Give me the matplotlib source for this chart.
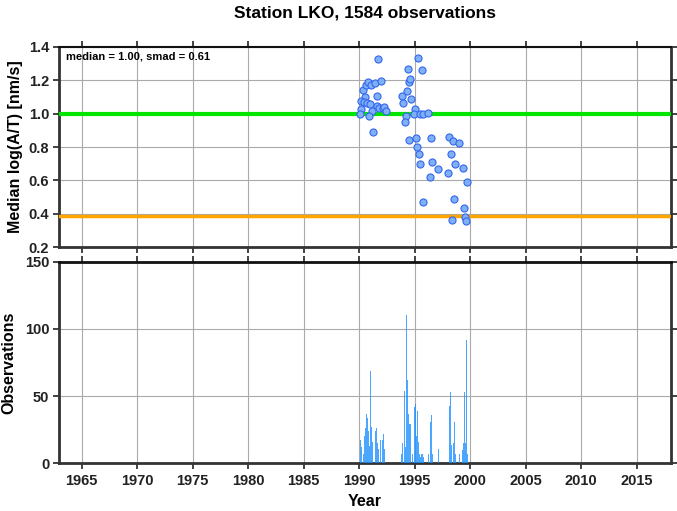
import numpy as np
import matplotlib
matplotlib.use("Agg")
import matplotlib.pyplot as plt

plt.rcParams['font.family'] = ['Liberation Sans', 'DejaVu Sans']
plt.rcParams['font.weight'] = 'bold'

station = "LKO"
n_obs = 1584
median_val = 1.00
smad_val = 0.61

# medians per period (decimal year, log(A/T))
pt_year = [1991.72, 1995.30, 1994.37, 1995.63, 1990.36, 1990.63, 1990.81, 1991.05,
           1991.45, 1991.93, 1990.54, 1991.63, 1990.18, 1990.42, 1990.72, 1990.96,
           1991.57, 1991.81, 1992.17, 1992.26, 1992.38, 1990.21, 1991.14, 1990.09,
           1990.90, 1991.23, 1993.83, 1993.95, 1994.28, 1994.46, 1994.61, 1994.70,
           1995.06, 1994.19, 1994.10, 1994.94, 1995.51, 1995.78, 1996.23, 1994.52,
           1995.15, 1996.45, 1995.21, 1995.39, 1995.45, 1996.57, 1996.39, 1997.14,
           1995.72, 1998.13, 1998.49, 1999.01, 1998.25, 1998.67, 1999.34, 1998.04,
           1999.70, 1998.58, 1999.43, 1999.52, 1999.61, 1998.34]
pt_val = [1.326, 1.334, 1.269, 1.261, 1.143, 1.173, 1.191, 1.173,
          1.185, 1.197, 1.101, 1.103, 1.078, 1.070, 1.064, 1.056,
          1.048, 1.034, 1.036, 1.038, 1.018, 1.030, 1.016, 0.998,
          0.988, 0.887, 1.105, 1.064, 1.137, 1.191, 1.207, 1.086,
          1.028, 0.988, 0.950, 0.998, 0.998, 0.998, 1.006, 0.841,
          0.853, 0.855, 0.801, 0.757, 0.696, 0.709, 0.618, 0.666,
          0.469, 0.859, 0.833, 0.827, 0.761, 0.696, 0.672, 0.642,
          0.588, 0.491, 0.435, 0.379, 0.359, 0.363]

# monthly observation counts
bar_year = [1990.08, 1990.24, 1990.38, 1990.47, 1990.57, 1990.68, 1990.77, 1990.86,
            1990.96, 1991.05, 1991.13, 1991.22, 1991.49, 1991.58, 1991.67, 1991.76,
            1991.90, 1992.12, 1992.21, 1992.30, 1993.84, 1993.93, 1994.11, 1994.20,
            1994.29, 1994.38, 1994.47, 1994.56, 1994.67, 1994.77, 1994.97, 1995.08,
            1995.17, 1995.26, 1995.35, 1995.44, 1995.53, 1995.62, 1995.71, 1995.80,
            1996.22, 1996.40, 1996.49, 1996.58, 1997.14, 1998.12, 1998.21, 1998.30,
            1998.48, 1998.57, 1998.66, 1999.02, 1999.32, 1999.41, 1999.50, 1999.59,
            1999.68, 1999.77]
bar_n = [17, 12, 7, 20, 26, 37, 34, 24,
         13, 69, 27, 16, 24, 26, 15, 11,
         17, 17, 22, 11, 7, 15, 54, 12,
         110, 62, 37, 29, 29, 7, 42, 44,
         20, 39, 16, 7, 5, 7, 7, 5,
         7, 31, 36, 7, 11, 43, 53, 14,
         15, 31, 7, 7, 10, 15, 53, 15,
         92, 7]

fig = plt.figure(figsize=(6.77, 5.11), dpi=100)
ax1 = fig.add_axes([0.0871, 0.516, 0.904, 0.3926])
ax2 = fig.add_axes([0.0871, 0.0933, 0.904, 0.3946])

xlim = (1962.95, 2018.1)
years = np.arange(1965, 2016, 5)

for ax in (ax1, ax2):
    ax.set_xlim(*xlim)
    ax.set_xticks(years)
    ax.grid(True, color='#aaaaaa', linewidth=0.8)
    ax.set_axisbelow(True)
    ax.tick_params(axis='x', which='both', top=True, bottom=True, direction='out',
                   length=4, width=1.2, labelsize=10.5, colors='#222222', pad=4)
    ax.tick_params(axis='y', which='both', left=True, right=True, direction='out',
                   length=4, width=1.2, labelsize=10.5, colors='#222222', pad=3)
    for side in ('left', 'right', 'bottom'):
        ax.spines[side].set_linewidth(2)
        ax.spines[side].set_color('#333333')
    ax.spines['top'].set_linewidth(1.5)
    ax.spines['top'].set_color('#111111')

# upper panel
ax1.scatter(pt_year, pt_val, s=26, facecolor='#7fb0f5', edgecolor='#3366ee',
            linewidth=0.8, zorder=4)
ax1.axhline(median_val, color='#00e600', linewidth=3, zorder=3)
ax1.axhline(median_val - smad_val, color='#ffa500', linewidth=2.5, zorder=3)
ax1.set_ylim(0.2, 1.4)
ax1.set_yticks(np.arange(0.2, 1.41, 0.2))
ax1.set_yticklabels([f"{v:.1f}" for v in np.arange(0.2, 1.41, 0.2)])
ax1.tick_params(axis='x', labelbottom=False)
ax1.set_ylabel("Median log(A/T) [nm/s]", fontsize=11.5, fontweight='bold', labelpad=4)
ax1.text(0.012, 0.975, f"median = {median_val:.2f}, smad = {smad_val:.2f}",
         transform=ax1.transAxes, ha='left', va='top', fontsize=8, fontweight='bold')
ax1.set_title(f"Station {station}, {n_obs} observations", fontsize=12.5,
              fontweight='bold', pad=21)

# lower panel
ax2.bar(bar_year, bar_n, width=0.09, color='#1e90ff', alpha=0.8, linewidth=0, zorder=3)
ax2.set_ylim(0, 150)
ax2.set_yticks([0, 50, 100, 150])
ax2.set_ylabel("Observations", fontsize=11.5, fontweight='bold', labelpad=6)
ax2.set_xlabel("Year", fontsize=11.5, fontweight='bold', labelpad=4)
ax2.spines['top'].set_linewidth(2)

fig.savefig("out.png", dpi=100)
